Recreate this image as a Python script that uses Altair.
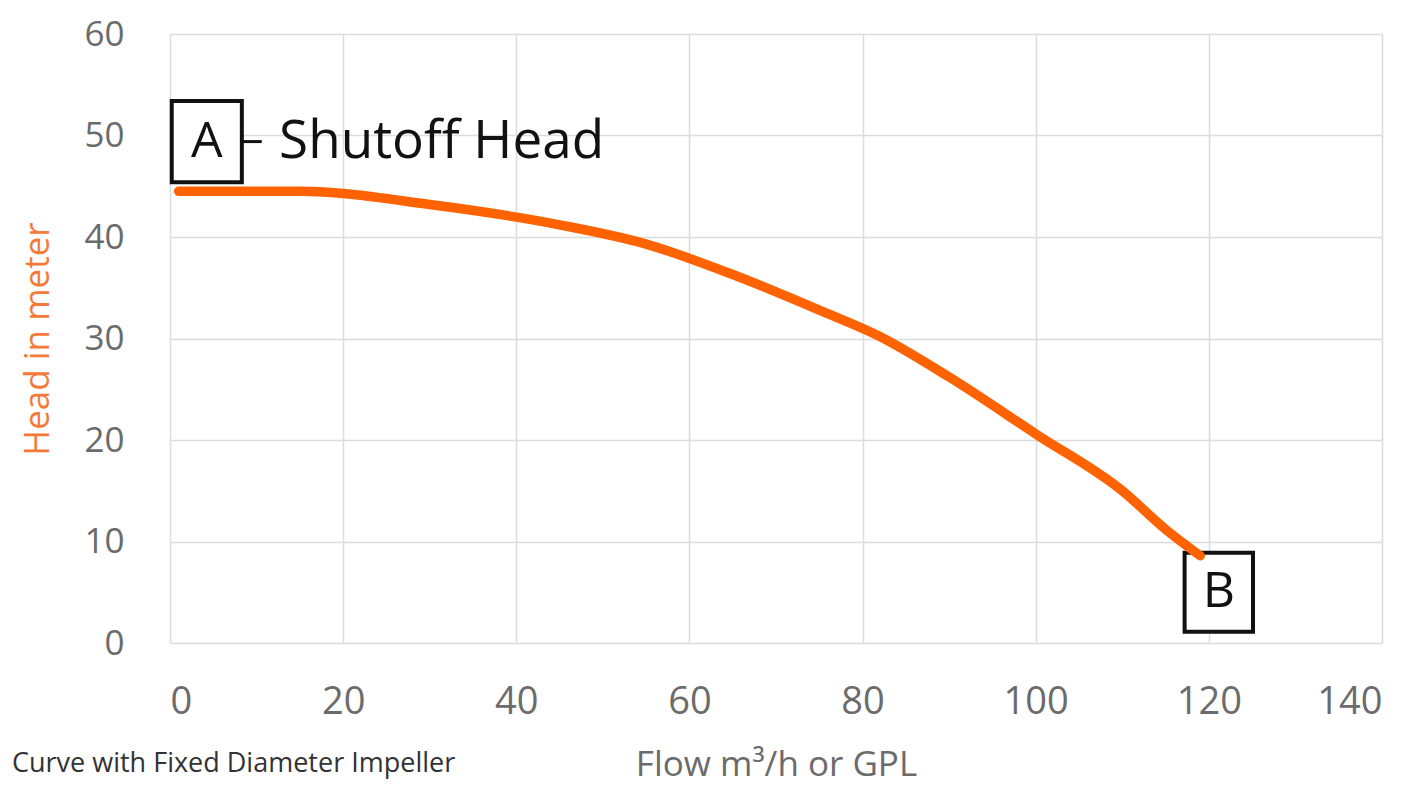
import altair as alt
import pandas as pd

# Pump curve data
flow = [1, 15, 30, 45, 55, 65, 75, 82, 90, 100, 110, 115, 119]
head = [44.5, 44.5, 43.2, 41.2, 39.3, 36.3, 32.8, 30.2, 26.2, 20.6, 15.0, 11.2, 8.6]

# Annotation boxes
box_labels = ["A", "B"]
box_x1 = [0.2, 117.2]
box_x2 = [8.3, 125.1]
box_y1 = [45.4, 1.1]
box_y2 = [53.4, 8.9]

FONT = "Open Sans"
ORANGE = "#FF6200"

curve = pd.DataFrame({"flow": flow, "head": head})
boxes = pd.DataFrame({
    "label": box_labels, "x1": box_x1, "x2": box_x2, "y1": box_y1, "y2": box_y2,
})
boxes["xc"] = (boxes["x1"] + boxes["x2"]) / 2
boxes["yc"] = (boxes["y1"] + boxes["y2"]) / 2

xscale = alt.Scale(domain=[0, 140], nice=False, zero=False)
yscale = alt.Scale(domain=[0, 60], nice=False, zero=False)

xaxis = alt.Axis(
    values=[0, 20, 40, 60, 80, 100, 120, 140], title="Flow m³/h or GPL",
    grid=True, gridColor="#dcdcdc", gridWidth=1.5, domain=False, ticks=False,
    labelFont=FONT, labelFontSize=38, labelColor="#6b6b6b", labelPadding=40,
    titleFont=FONT, titleFontSize=35, titleColor="#6b6b6b", titleFontWeight="normal",
    titlePadding=26,
)
yaxis = alt.Axis(
    values=[0, 10, 20, 30, 40, 50, 60], title="Head in meter",
    grid=True, gridColor="#dcdcdc", gridWidth=1.5, domain=False, ticks=False,
    labelFont=FONT, labelFontSize=35, labelColor="#6b6b6b", labelPadding=46,
    titleFont=FONT, titleFontSize=35, titleColor="#F47A3A", titleFontWeight="normal",
    titlePadding=28,
)

base_line = alt.Chart(curve).mark_line(
    color=ORANGE, strokeWidth=9.5, interpolate="monotone", strokeCap="round"
).encode(
    x=alt.X("flow:Q", scale=xscale, axis=xaxis),
    y=alt.Y("head:Q", scale=yscale, axis=yaxis),
)

rects = alt.Chart(boxes).mark_rect(
    fill="white", stroke="#111111", strokeWidth=4
).encode(
    x=alt.X("x1:Q", scale=xscale), x2="x2:Q",
    y=alt.Y("y1:Q", scale=yscale), y2="y2:Q",
)

letters = alt.Chart(boxes).mark_text(
    font=FONT, fontSize=50, color="#111111", baseline="middle", align="center"
).encode(
    x=alt.X("xc:Q", scale=xscale), y=alt.Y("yc:Q", scale=yscale), text="label:N"
)

dash = pd.DataFrame({"x": [8.3], "x2": [10.6], "y": [49.4]})
dash_rule = alt.Chart(dash).mark_rule(color="#111111", strokeWidth=3).encode(
    x=alt.X("x:Q", scale=xscale), x2="x2:Q", y=alt.Y("y:Q", scale=yscale)
)

shut = pd.DataFrame({"x": [12.6], "y": [49.4], "t": ["Shutoff Head"]})
shut_text = alt.Chart(shut).mark_text(
    font=FONT, fontSize=53, color="#111111", baseline="middle", align="left"
).encode(
    x=alt.X("x:Q", scale=xscale), y=alt.Y("y:Q", scale=yscale), text="t:N"
)

caption = pd.DataFrame({"t": ["Curve with Fixed Diameter Impeller"]})
cap_text = alt.Chart(caption).mark_text(
    font=FONT, fontSize=27, color="#333333", baseline="bottom", align="left"
).encode(x=alt.value(-158), y=alt.value(744), text="t:N")

chart = alt.layer(rects, dash_rule, shut_text, base_line, letters, cap_text).properties(
    width=1212, height=609,
    autosize=alt.AutoSizeParams(type="none"),
    padding={"left": 162, "top": 26, "right": 34, "bottom": 150},
).configure_view(stroke=None)

chart.save("out.html", embed_options={"renderer": "svg", "actions": False})
